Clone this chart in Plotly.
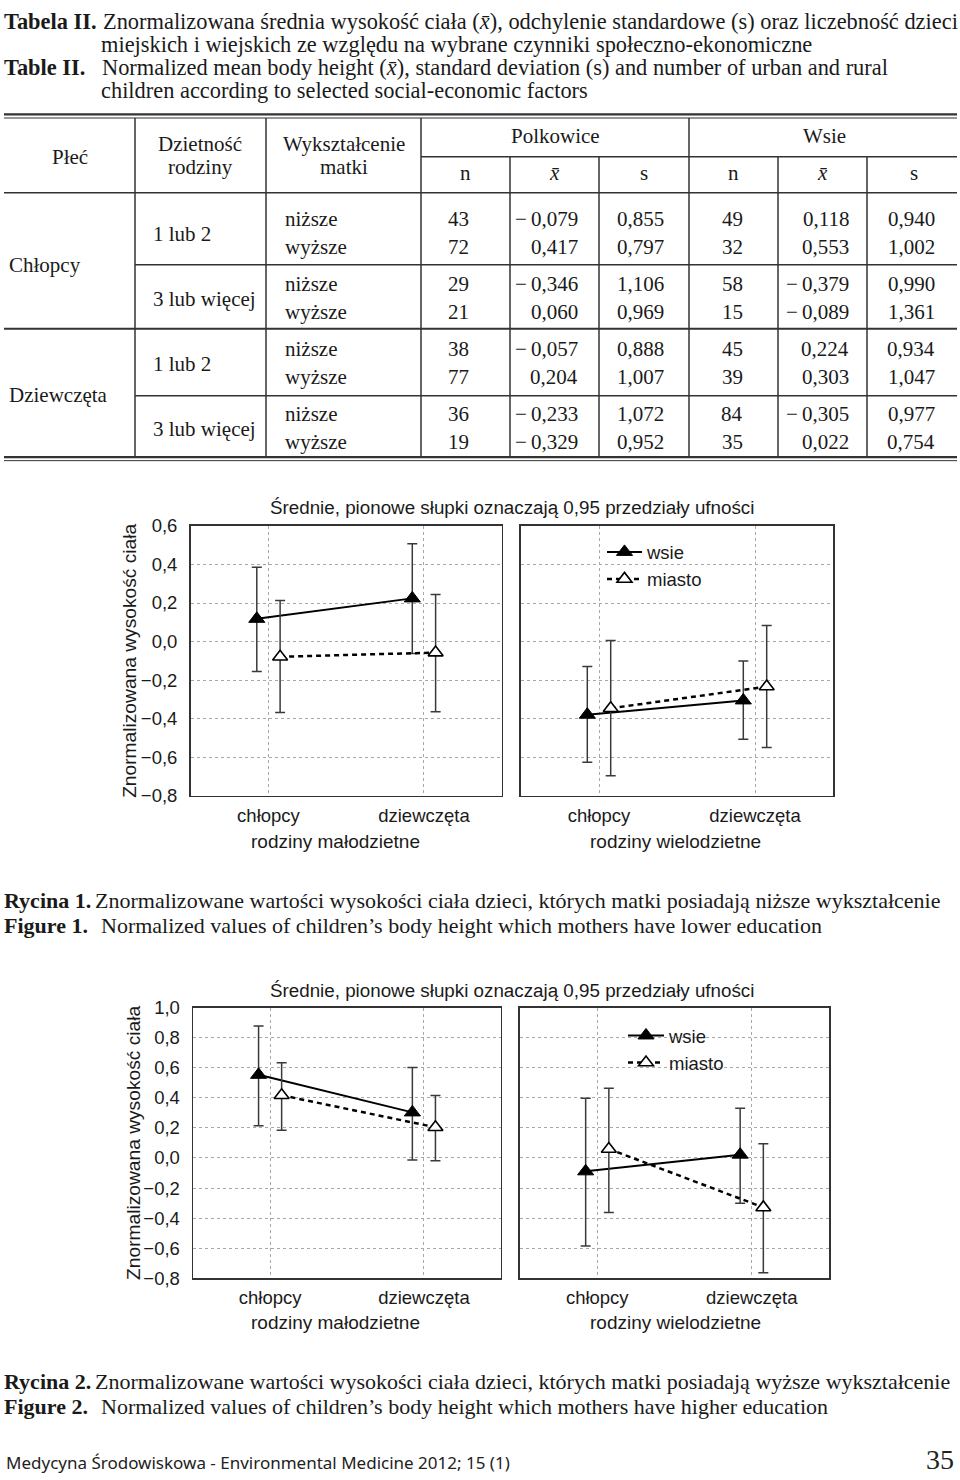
import plotly.graph_objects as go

W, H = 960, 1480

# ---------------- data (Table II) ----------------
# row order: sex (Chłopcy, Dziewczęta) x family (1 lub 2, 3 lub więcej) x education (niższe, wyższe)
sex_labels = ["Chłopcy", "Dziewczęta"]
family_labels = ["1 lub 2", "3 lub więcej"]
edu_labels = ["niższe", "wyższe"]

pol_n = [43, 72, 29, 21, 38, 77, 36, 19]
pol_mean = [-0.079, 0.417, -0.346, 0.060, -0.057, 0.204, -0.233, -0.329]
pol_s = [0.855, 0.797, 1.106, 0.969, 0.888, 1.007, 1.072, 0.952]
wsie_n = [49, 32, 58, 15, 45, 39, 84, 35]
wsie_mean = [0.118, 0.553, -0.379, -0.089, 0.224, 0.303, -0.305, 0.022]
wsie_s = [0.940, 1.002, 0.990, 1.361, 0.934, 1.047, 0.977, 0.754]

# 95% confidence limits (same row order)
wsie_lo = [-0.155, 0.215, -0.625, -0.586, -0.062, -0.014, -0.506, -0.302]
wsie_hi = [0.386, 0.878, -0.129, 0.397, 0.507, 0.601, -0.100, 0.330]
miasto_lo = [-0.368, 0.184, -0.696, -0.362, -0.364, -0.018, -0.549, -0.763]
miasto_hi = [0.213, 0.634, 0.005, 0.463, 0.244, 0.415, 0.083, 0.095]

categories = ["chłopcy", "dziewczęta"]
panel_labels = ["rodziny małodzietne", "rodziny wielodzietne"]
series_names = ["wsie", "miasto"]
chart_title = "Średnie, pionowe słupki oznaczają 0,95 przedziały ufności"
y_title = "Znormalizowana wysokość ciała"

# ---------------- helpers ----------------
def px(x):
    return x / W

def ppage(page_y):
    return 1 - page_y / H

def py(y):
    # target position in the page picture -> page coordinate
    return ppage((y - 11.2) / 0.9857)

serif = "Liberation Serif"
sans = "Liberation Sans"
INK = "#1a1a1a"
LINE = "#333333"

fig = go.Figure()

chart_defs = [
    dict(edu=0, ytop=526, ybot=796, yrange=[-0.8, 0.6],
         xdoms=[(190.7, 501.7), (521, 833)], axes=[("x", "y"), ("x2", "y2")],
         legend="legend", title_y=508, group_y=841.7, ytitle_x=130),
    dict(edu=1, ytop=1007.7, ybot=1278.3, yrange=[-0.8, 1.0],
         xdoms=[(193.2, 500.8), (520, 829)], axes=[("x3", "y3"), ("x4", "y4")],
         legend="legend2", title_y=990.7, group_y=1322.7, ytitle_x=134),
]

dodge = 0.075
cat_pos = [0, 1]
series_data = [
    (series_names[0], wsie_mean, wsie_lo, wsie_hi, -dodge,
     dict(color="black", width=2),
     dict(symbol="triangle-up", size=14, color="black", line=dict(color="black", width=1))),
    (series_names[1], pol_mean, miasto_lo, miasto_hi, dodge,
     dict(color="black", width=2.5, dash="5px,4px"),
     dict(symbol="triangle-up", size=13, color="white", line=dict(color="black", width=1.6))),
]

for cd in chart_defs:
    for p in (0, 1):
        xa, ya = cd["axes"][p]
        for name, mean, lo, hi, off, lstyle, mstyle in series_data:
            idx = [s * 4 + p * 2 + cd["edu"] for s in (0, 1)]
            yv = [mean[i] for i in idx]
            up = [hi[i] - mean[i] for i in idx]
            dn = [mean[i] - lo[i] for i in idx]
            fig.add_trace(go.Scatter(
                x=[c + off for c in cat_pos], y=yv, xaxis=xa, yaxis=ya,
                mode="lines+markers", name=name, legend=cd["legend"],
                showlegend=(p == 1), line=lstyle, marker=mstyle,
                error_y=dict(type="data", symmetric=False, array=up, arrayminus=dn,
                             color="#3a3a3a", thickness=1.5, width=5),
                hoverinfo="skip"))

axis_common = dict(showline=True, mirror=True, linecolor=LINE, linewidth=1.6,
                   showgrid=True, gridcolor="#a8a8a8", gridwidth=1, griddash="dot",
                   zeroline=False, fixedrange=True, ticks="",
                   tickfont=dict(family=sans, size=18.5, color=INK))

layout_axes = {}
for ci, cd in enumerate(chart_defs):
    ydom = [py(cd["ybot"]), py(cd["ytop"])]
    for p in (0, 1):
        xa, ya = cd["axes"][p]
        xkey = "xaxis" + xa[1:]
        ykey = "yaxis" + ya[1:]
        x0, x1 = cd["xdoms"][p]
        layout_axes[xkey] = dict(axis_common, domain=[px(x0), px(x1)], range=[-0.5, 1.5],
                                 tickvals=cat_pos, ticktext=categories, anchor=ya,
                                 ticklabelstandoff=2)
        layout_axes[ykey] = dict(axis_common, domain=ydom, range=cd["yrange"],
                                 dtick=0.2, tick0=0, tickformat=".1f", anchor=xa,
                                 showticklabels=(p == 0), ticklabelstandoff=8)
    # odd inner ticks on the right edge of the left panel (11 equal intervals)
    okey = "yaxis" + str(5 + ci)
    layout_axes[okey] = dict(overlaying=cd["axes"][0][1], anchor=cd["axes"][0][0], side="right",
                             range=[0, 11], tickvals=list(range(1, 11)), ticks="inside",
                             ticklen=4, tickwidth=1, tickcolor=LINE, showticklabels=False,
                             showgrid=False, showline=False, zeroline=False, fixedrange=True)

annotations = []
shapes = []

# chart texts
for cd in chart_defs:
    annotations.append(dict(text=chart_title, x=px(512), y=py(cd["title_y"]), xref="paper", yref="paper",
                            showarrow=False, xanchor="center", yanchor="middle",
                            font=dict(family=sans, size=18.8, color=INK)))
    annotations.append(dict(text=y_title, x=px(cd["ytitle_x"]), y=py((cd["ytop"] + cd["ybot"]) / 2),
                            xref="paper", yref="paper", showarrow=False, textangle=-90,
                            xanchor="center", yanchor="middle",
                            font=dict(family=sans, size=19.2, color=INK)))
    for p, gx in zip((0, 1), (335, 675)):
        annotations.append(dict(text=panel_labels[p], x=px(gx), y=py(cd["group_y"]), xref="paper",
                                yref="paper", showarrow=False, xanchor="center", yanchor="middle",
                                font=dict(family=sans, size=19, color=INK)))

# ---------------- captions ----------------
head_font = dict(family=serif, size=22.4, color=INK)
fig_font = dict(family=serif, size=22.0, color=INK)
caption_lines = [
    ("<b>Tabela II.</b>", ppage(11), "Znormalizowana średnia wysokość ciała (<i>x̄</i>), odchylenie standardowe (s) oraz liczebność dzieci", 101, head_font),
    ("", ppage(34.3), "miejskich i wiejskich ze względu na wybrane czynniki społeczno-ekonomiczne", 99, head_font),
    ("<b>Table II.</b>", ppage(57.6), "Normalized mean body height (<i>x̄</i>), standard deviation (s) and number of urban and rural", 100, head_font),
    ("", ppage(80.9), "children according to selected social-economic factors", 99, head_font),
    ("<b>Rycina 1.</b>", py(901), "Znormalizowane wartości wysokości ciała dzieci, których matki posiadają niższe wykształcenie", 93, fig_font),
    ("<b>Figure 1.</b>", py(926), "Normalized values of children’s body height which mothers have lower education", 99, fig_font),
    ("<b>Rycina 2.</b>", py(1382), "Znormalizowane wartości wysokości ciała dzieci, których matki posiadają wyższe wykształcenie", 93, fig_font),
    ("<b>Figure 2.</b>", py(1407), "Normalized values of children’s body height which mothers have higher education", 99, fig_font),
]
for lab, yy, txt, tx, fnt in caption_lines:
    if lab:
        annotations.append(dict(text=lab, x=px(2), y=yy, xref="paper", yref="paper", showarrow=False,
                                xanchor="left", yanchor="middle", font=fnt))
    annotations.append(dict(text=txt, x=px(tx), y=yy, xref="paper", yref="paper", showarrow=False,
                            xanchor="left", yanchor="middle", font=fnt))

annotations.append(dict(text="Medycyna Środowiskowa - Environmental Medicine 2012; 15 (1)", x=px(4), y=ppage(1472),
                        xref="paper", yref="paper", showarrow=False, xanchor="left", yanchor="middle",
                        font=dict(family="Noto Sans", size=17, color="#222")))
annotations.append(dict(text="35", x=px(956), y=ppage(1469), xref="paper", yref="paper", showarrow=False,
                        xanchor="right", yanchor="middle", font=dict(family=serif, size=28, color="#222")))

# ---------------- table ----------------
tfont = dict(family=serif, size=21, color=INK)

def tline(x0, y0, x1, y1, w=1.5):
    shapes.append(dict(type="line", xref="paper", yref="paper", x0=px(x0), x1=px(x1),
                       y0=py(y0), y1=py(y1), line=dict(color=LINE, width=w)))

L, R = 4, 957
tline(L, 114.5, R, 114.5, 2.2)
tline(L, 118.2, R, 118.2, 1)
tline(421, 157, R, 157)
tline(L, 193, R, 193)
tline(135, 265, R, 265)
tline(L, 329, R, 329, 2)
tline(135, 396, R, 396)
tline(L, 457.3, R, 457.3, 2.2)
tline(L, 460.8, R, 460.8, 1)
for vx in (135, 266, 421, 689):
    tline(vx, 118.2, vx, 457.3)
for vx in (510, 599, 778, 867):
    tline(vx, 157, vx, 457.3)

def ttext(t, x, y, anchor="center"):
    annotations.append(dict(text=t, x=px(x), y=py(y), xref="paper", yref="paper", showarrow=False,
                            xanchor=anchor, yanchor="middle", font=tfont))

ttext("Płeć", 70, 157)
ttext("Dzietność", 200, 144)
ttext("rodziny", 200, 167)
ttext("Wykształcenie", 344, 144)
ttext("matki", 344, 167)
ttext("Polkowice", 555, 136.5)
ttext("Wsie", 824, 136.5)
for hx, ht in zip((465, 554.5, 644, 733.5, 822.5, 913.5), ("n", "<i>x̄</i>", "s", "n", "<i>x̄</i>", "s")):
    ttext(ht, hx, 173)

def fmt(v):
    s = f"{abs(v):.3f}".replace(".", ",")
    return ("\u2212\u2009" + s) if v < 0 else s

row_base, block_step, sub_step = 219.3, 65, 27.4
col_right = [471, 580, 666, 745, 851, 937]
for si, sx in enumerate(sex_labels):
    ttext(sx, 7, row_base + block_step * (2 * si) + sub_step / 2 + 32.5, "left")
    for fi, fl in enumerate(family_labels):
        b = 2 * si + fi
        ttext(fl, 151, row_base + block_step * b + sub_step / 2 + 1, "left")
        for ei, el in enumerate(edu_labels):
            r = b * 2 + ei
            yy = row_base + block_step * b + sub_step * ei
            ttext(el, 283, yy, "left")
            vals = [str(pol_n[r]), fmt(pol_mean[r]), fmt(pol_s[r]),
                    str(wsie_n[r]), fmt(wsie_mean[r]), fmt(wsie_s[r])]
            for cx, v in zip(col_right, vals):
                ttext(v, cx, yy, "right")

fig.update_layout(
    width=W, height=H, margin=dict(l=0, r=0, t=0, b=0),
    paper_bgcolor="white", plot_bgcolor="white",
    separators=", ",
    annotations=annotations, shapes=shapes,
    legend=dict(x=px(602), y=py(533.5), xanchor="left", yanchor="top", bgcolor="rgba(0,0,0,0)",
                font=dict(family=sans, size=18.5, color=INK), itemwidth=35, tracegroupgap=0),
    legend2=dict(x=px(623), y=py(1017), xanchor="left", yanchor="top", bgcolor="rgba(0,0,0,0)",
                 font=dict(family=sans, size=18.5, color=INK), itemwidth=36, tracegroupgap=0),
    **layout_axes,
)

post = ("var d=document.getElementById('{plot_id}');"
        "d.style.position='absolute';d.style.top='0px';d.style.left='0px';"
        "document.documentElement.style.margin='0';document.body.style.margin='0';"
        "document.body.style.padding='0';document.body.style.overflow='hidden';"
        "document.documentElement.style.overflow='hidden';")
fig.write_html("out.html", config={"staticPlot": True}, post_script=post)
